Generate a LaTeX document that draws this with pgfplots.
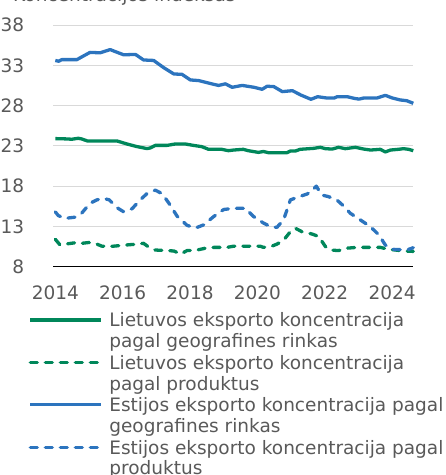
\documentclass[border=0pt]{standalone}
\usepackage{pgfplots}
\pgfplotsset{compat=1.18}
\usepackage{pgfplotstable}
\usepackage{fontspec}
\setmainfont{DejaVu Sans}
\definecolor{lgreen}{RGB}{0,135,90}
\definecolor{eblue}{RGB}{44,116,190}
\definecolor{txtgrey}{RGB}{89,89,89}
\definecolor{gridgrey}{RGB}{217,217,217}

\pgfplotstableread{
x y
2014.00 23.9
2014.34 23.86
2014.49 23.82
2014.68 23.94
2014.78 23.86
2014.95 23.61
2015.83 23.61
2016.12 23.24
2016.42 22.91
2016.72 22.66
2016.82 22.74
2016.97 23.06
2017.32 23.06
2017.56 23.23
2017.86 23.23
2018.10 23.06
2018.35 22.9
2018.55 22.57
2018.94 22.57
2019.14 22.4
2019.29 22.48
2019.58 22.57
2019.73 22.4
2020.03 22.19
2020.18 22.3
2020.33 22.15
2020.88 22.15
2020.98 22.36
2021.13 22.36
2021.27 22.57
2021.67 22.69
2021.87 22.82
2022.02 22.65
2022.22 22.6
2022.41 22.82
2022.61 22.65
2022.91 22.82
2023.16 22.6
2023.36 22.48
2023.65 22.57
2023.80 22.24
2023.95 22.48
2024.19 22.57
2024.34 22.65
2024.49 22.57
2024.63 22.4
}\ltgeo

\pgfplotstableread{
x y
2014.00 11.4
2014.14 10.7
2014.29 10.8
2014.64 11.0
2014.78 10.9
2014.99 11.0
2015.18 10.9
2015.38 10.55
2015.73 10.55
2016.12 10.7
2016.42 10.8
2016.62 10.9
2016.77 10.45
2016.97 10.07
2017.32 10.0
2017.52 9.95
2017.72 9.57
2017.91 10.0
2018.21 10.07
2018.46 10.3
2018.71 10.4
2019.10 10.4
2019.30 10.55
2019.60 10.55
2020.08 10.55
2020.18 10.4
2020.43 10.55
2020.58 10.8
2020.78 11.3
2020.98 12.35
2021.13 12.77
2021.32 12.35
2021.62 12.06
2021.82 11.75
2022.02 10.5
2022.17 10.07
2022.41 10.0
2022.66 10.3
2022.96 10.4
2023.36 10.4
2023.65 10.4
2023.90 10.15
2024.10 10.07
2024.34 9.95
2024.63 9.9
}\ltprod

\pgfplotstableread{
x y
2014.00 33.6
2014.10 33.5
2014.19 33.7
2014.64 33.7
2014.79 34.05
2015.03 34.6
2015.33 34.55
2015.63 34.95
2015.78 34.7
2016.03 34.3
2016.38 34.35
2016.62 33.66
2016.92 33.6
2017.22 32.7
2017.52 31.92
2017.76 31.88
2018.01 31.18
2018.26 31.1
2018.70 30.64
2018.85 30.5
2019.05 30.7
2019.25 30.27
2019.55 30.5
2019.90 30.27
2020.14 30.02
2020.29 30.4
2020.49 30.35
2020.74 29.73
2021.04 29.85
2021.29 29.31
2021.59 28.78
2021.79 29.1
2022.04 28.95
2022.29 28.95
2022.37 29.1
2022.67 29.1
2022.87 28.9
2023.02 28.8
2023.17 28.95
2023.56 28.95
2023.80 29.27
2024.00 28.95
2024.24 28.7
2024.44 28.6
2024.63 28.28
}\eegeo

\pgfplotstableread{
x y
2014.00 14.8
2014.09 14.34
2014.29 14.0
2014.59 14.15
2014.78 14.63
2015.03 15.87
2015.23 16.29
2015.42 16.49
2015.60 16.3
2015.83 15.33
2016.02 14.84
2016.28 15.2
2016.52 16.29
2016.72 17.07
2016.97 17.5
2017.17 17.07
2017.37 15.9
2017.62 14.25
2017.91 13.14
2018.16 12.8
2018.41 13.2
2018.71 14.25
2019.00 15.1
2019.30 15.25
2019.64 15.25
2019.88 14.25
2020.18 13.42
2020.38 13.0
2020.58 12.88
2020.78 13.84
2020.98 16.29
2021.18 16.6
2021.48 17.03
2021.62 17.43
2021.75 18.0
2021.91 16.9
2022.11 16.7
2022.36 16.29
2022.56 15.53
2022.76 14.63
2023.06 13.8
2023.36 12.96
2023.61 11.93
2023.80 10.69
2024.05 10.15
2024.34 10.1
2024.49 10.15
2024.63 10.36
}\eeprod

\begin{document}
\begin{tikzpicture}[x=1pt,y=1pt]
\useasboundingbox (0,0) rectangle (446,475);
\node[anchor=base west, inner sep=0pt, text=txtgrey, font=\fontsize{18.5}{21.3}\selectfont] at (13,473) {Koncentracijos indeksas};
\begin{axis}[
  at={(53.3pt,208.3pt)}, anchor=south west,
  scale only axis, width=360pt, height=241.7pt,
  xmin=2013.94, xmax=2024.63,
  ymin=8, ymax=38,
  xtick={2014,2016,2018,2020,2022,2024},
  ytick={8,13,18,23,28,33,38},
  /pgf/number format/1000 sep={},
  /pgf/number format/assume math mode=true,
  separate axis lines,
  axis x line*=bottom, axis y line*=left,
  y axis line style={draw=none},
  x axis line style={black, line width=1.3pt, -},
  major tick length=0pt,
  tick style={draw=none},
  ymajorgrids, grid style={gridgrey, line width=1pt},
  ticklabel style={font=\fontsize{18.5}{21.3}\selectfont, text=txtgrey},
  yticklabel style={inner sep=0pt, anchor=east, xshift=-29pt},
  xticklabel style={inner sep=0pt, anchor=north, yshift=-19pt},
  clip=false,
  legend style={at={(-0.0683,-0.19)}, anchor=north west, draw=none, fill=none,
    inner sep=0pt, outer sep=0pt, column sep=7pt, row sep=6pt,
    font=\fontsize{18.5}{21.3}\selectfont, text=txtgrey,
    nodes={inner sep=0pt}},
  legend cell align=left,
  legend image code/.code={\draw[#1] (0pt,11pt) -- (70.3pt,11pt);},
  every axis plot/.append style={line width=3.3pt, line join=round},
]
\addplot[lgreen, line cap=butt] table[x=x,y=y] {\ltgeo};
\addlegendentry{\shortstack[l]{Lietuvos eksporto koncentracija\\pagal geografines rinkas}}
\addplot[lgreen, dash pattern=on 7pt off 8pt, line cap=round] table[x=x,y=y] {\ltprod};
\addlegendentry{\shortstack[l]{Lietuvos eksporto koncentracija\\pagal produktus}}
\addplot[eblue, line cap=butt] table[x=x,y=y] {\eegeo};
\addlegendentry{\shortstack[l]{Estijos eksporto koncentracija pagal\\geografines rinkas}}
\addplot[eblue, dash pattern=on 7pt off 8pt, line cap=round] table[x=x,y=y] {\eeprod};
\addlegendentry{\shortstack[l]{Estijos eksporto koncentracija pagal\\produktus}}
\end{axis}
\end{tikzpicture}
\end{document}
